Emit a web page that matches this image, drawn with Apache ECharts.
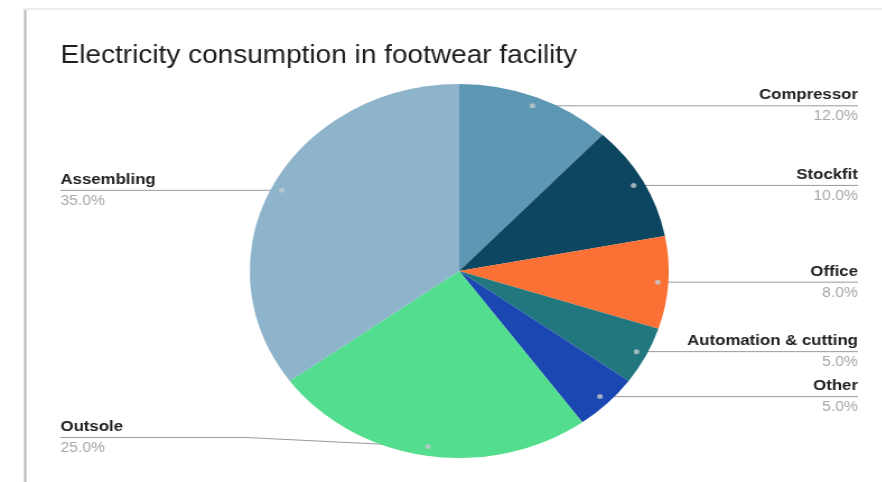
<!DOCTYPE html>
<html>
<head>
<meta charset="utf-8">
<script src="https://cdn.jsdelivr.net/npm/echarts@6/dist/echarts.min.js"></script>
<style>
  html, body { margin: 0; padding: 0; background: #ffffff; overflow: hidden; }
  /* chart drawn slightly wider than tall: canvas is stretched horizontally */
  #chart { width: 788px; height: 482px; transform: scaleX(1.12); transform-origin: 0 0; }
</style>
</head>
<body>
<div id="chart"></div>
<script>
// Electricity consumption shares (percent) by area, clockwise from 12 o'clock
const categories = ['Compressor', 'Stockfit', 'Office', 'Automation & cutting', 'Other', 'Outsole', 'Assembling'];
const shares = [12, 10, 8, 5, 5, 25, 35];

const sliceColors = ['#5e97b4', '#0c4661', '#fb7034', '#22777f', '#1a47b1', '#52de8e', '#8eb4cb'];

const CENTER = [410, 271];
const RADIUS = 187;
const LEFT_EDGE = 54;
const RIGHT_EDGE = 766;
const DOT_FRACTION = 0.95;
const LABEL_MAX_Y = CENTER[1] + 0.89 * RADIUS;

const total = shares.reduce((a, b) => a + b, 0);

// midpoint of each slice along the angle axis, used for the small label anchors
const midAngles = [];
let acc = 0;
shares.forEach(v => { midAngles.push(acc + v / 2); acc += v; });

const chart = echarts.init(document.getElementById('chart'));

chart.setOption({
  backgroundColor: '#ffffff',
  animation: false,
  title: {
    text: 'Electricity consumption in footwear facility',
    left: LEFT_EDGE,
    top: 44,
    padding: 0,
    textStyle: { fontFamily: 'Arial, Liberation Sans, sans-serif', fontSize: 25, fontWeight: 'normal', color: '#1e1e1e' }
  },
  graphic: [
    { type: 'line', shape: { x1: 22.5, y1: 9, x2: 22.5, y2: 482 }, style: { stroke: '#b8b8b8', lineWidth: 2 } },
    { type: 'line', shape: { x1: 22, y1: 9, x2: 788, y2: 9 }, style: { stroke: '#ececec', lineWidth: 2 } }
  ],
  polar: { center: CENTER, radius: RADIUS },
  angleAxis: { type: 'value', min: 0, max: total, startAngle: 90, clockwise: true, show: false },
  radiusAxis: { type: 'value', min: 0, max: 1, show: false },
  series: [
    {
      type: 'pie',
      center: CENTER,
      radius: RADIUS,
      startAngle: 90,
      clockwise: true,
      avoidLabelOverlap: false,
      data: categories.map((name, i) => ({ name, value: shares[i], itemStyle: { color: sliceColors[i] } })),
      label: {
        show: true,
        position: 'outside',
        formatter: p => '{n|' + p.name + '}\n{p|' + p.percent.toFixed(1) + '%}',
        rich: {
          n: { fontFamily: 'Arial, Liberation Sans, sans-serif', fontSize: 15, fontWeight: 'bold', color: '#222222', lineHeight: 21 },
          p: { fontFamily: 'Arial, Liberation Sans, sans-serif', fontSize: 14, color: '#a8a8a8', lineHeight: 21 }
        }
      },
      labelLine: { show: true, lineStyle: { color: '#9a9a9a', width: 1 } },
      labelLayout: function (params) {
        const p0 = params.labelLinePoints[0];
        const dx = p0[0] - CENTER[0];
        const dy = p0[1] - CENTER[1];
        const k = DOT_FRACTION * RADIUS / Math.hypot(dx, dy);
        const dot = [CENTER[0] + dx * k, CENTER[1] + dy * k];
        const right = dx >= 0;
        const edgeX = right ? RIGHT_EDGE : LEFT_EDGE;
        const labelY = Math.min(dot[1], LABEL_MAX_Y);
        return {
          x: edgeX,
          y: labelY,
          align: right ? 'right' : 'left',
          verticalAlign: 'middle',
          labelLinePoints: [dot, [(dot[0] + edgeX) / 2, labelY], [edgeX, labelY]]
        };
      }
    },
    {
      type: 'scatter',
      coordinateSystem: 'polar',
      z: 5,
      silent: true,
      symbol: 'circle',
      symbolSize: 5,
      itemStyle: { color: '#c2c9cd' },
      data: midAngles.map(a => [DOT_FRACTION, a])
    }
  ]
});
</script>
</body>
</html>
